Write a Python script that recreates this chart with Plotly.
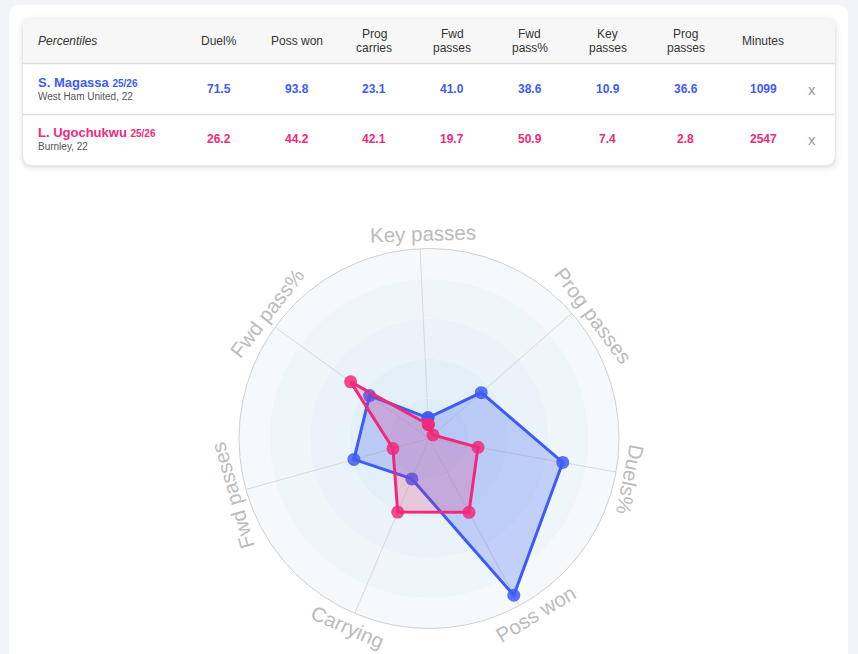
import math
import plotly.graph_objects as go

W, H = 858, 654

# ---------------- data ----------------
table_headers = ["Duel%", "Poss won", "Prog<br>carries", "Fwd<br>passes", "Fwd<br>pass%",
                 "Key<br>passes", "Prog<br>passes", "Minutes"]
player_names = ["S. Magassa", "L. Ugochukwu"]
player_seasons = ["25/26", "25/26"]
player_clubs = ["West Ham United, 22", "Burnley, 22"]
magassa_values = [71.5, 93.8, 23.1, 41.0, 38.6, 10.9, 36.6]
ugochukwu_values = [26.2, 44.2, 42.1, 19.7, 50.9, 7.4, 2.8]
player_minutes = [1099, 2547]

radar_labels = ["Key passes", "Prog passes", "Duels%", "Poss won", "Carrying", "Fwd passes", "Fwd pass%"]
# index of each radar axis in the table value lists
radar_index = [5, 6, 0, 1, 2, 3, 4]
radial_max = 100
band_edges = [0, 21, 42, 63, 84, 100]

# ---------------- styles ----------------
BLUE = "#3d5cf5"
PINK = "#f0297a"
colors = [BLUE, PINK]
fills = ["rgba(61,92,245,0.25)", "rgba(240,41,122,0.2)"]
band_colors = ["#dfedf6", "#e4f0f7", "#e9f3f9", "#eff6fa", "#f5f9fc"]
label_nudge = [1, 4.5, 1.5, -3, 0.5, -0.5, 2]  # small angular offsets of the axis titles
FONT = "Liberation Sans, Arial, sans-serif"

# polar geometry (pixels)
CX, CY, RAD = 429, 438.5, 190
ROT = 92.7
n = len(radar_labels)
angles = [i * 360 / n for i in range(n)]


def px(x):
    return x / W


def py(y):
    return 1 - y / H


def rrect(x0, y0, x1, y1, r, top_only=False):
    rb = 0 if top_only else r
    pts = [
        f"M{px(x0 + r)},{py(y0)}", f"L{px(x1 - r)},{py(y0)}",
        f"Q{px(x1)},{py(y0)} {px(x1)},{py(y0 + r)}",
        f"L{px(x1)},{py(y1 - rb)}",
        f"Q{px(x1)},{py(y1)} {px(x1 - rb)},{py(y1)}",
        f"L{px(x0 + rb)},{py(y1)}",
        f"Q{px(x0)},{py(y1)} {px(x0)},{py(y1 - rb)}",
        f"L{px(x0)},{py(y0 + r)}",
        f"Q{px(x0)},{py(y0)} {px(x0 + r)},{py(y0)}", "Z"]
    return " ".join(pts)


fig = go.Figure()

# background bands
for i in range(len(band_edges) - 1):
    fig.add_trace(go.Barpolar(
        r=[band_edges[i + 1] - band_edges[i]], base=[band_edges[i]], theta=[0], width=[360],
        marker=dict(color=band_colors[i], line=dict(width=0)), hoverinfo="skip", showlegend=False))

# spokes
spoke_r, spoke_t = [], []
for a in angles:
    spoke_r += [0, radial_max, None]
    spoke_t += [a, a, None]
fig.add_trace(go.Scatterpolar(r=spoke_r, theta=spoke_t, mode="lines",
                              line=dict(color="#d8d8d8", width=1), hoverinfo="skip",
                              showlegend=False, connectgaps=False))

# players
for vals, col, fc, name in zip([magassa_values, ugochukwu_values], colors, fills, player_names):
    rv = [vals[k] for k in radar_index]
    fig.add_trace(go.Scatterpolar(
        r=rv + [rv[0]], theta=angles + [angles[0]], mode="lines+markers", fill="toself",
        fillcolor=fc, line=dict(color=col, width=3),
        marker=dict(size=13, color=col, opacity=0.85), name=name, showlegend=False))

fig.update_layout(
    width=W, height=H, autosize=False,
    margin=dict(l=0, r=0, t=0, b=0),
    paper_bgcolor="#f3f4f8",
    showlegend=False,
    polar=dict(
        domain=dict(x=[px(CX - RAD), px(CX + RAD)], y=[py(CY + RAD), py(CY - RAD)]),
        bgcolor="rgba(0,0,0,0)",
        radialaxis=dict(range=[0, radial_max], visible=False),
        angularaxis=dict(direction="clockwise", rotation=ROT, tickvals=angles,
                         showticklabels=False, ticks="", showgrid=False,
                         showline=True, linecolor="#cfcfcf", linewidth=1),
        barmode="overlay",
    ),
)

shapes = []
# outer white card
shapes.append(dict(type="path", path=rrect(9.5, 5, 848, 720, 10), fillcolor="white",
                   line=dict(width=0), layer="below", xref="paper", yref="paper"))
# table card shadow
for grow, op in [(6, 0.012), (4, 0.018), (2, 0.025), (1, 0.035)]:
    shapes.append(dict(type="path", path=rrect(23 - grow, 19 - grow + 1.5, 835 + grow, 165 + grow + 1.5, 10 + grow),
                       fillcolor=f"rgba(0,0,0,{op})", line=dict(width=0), layer="below",
                       xref="paper", yref="paper"))
shapes.append(dict(type="path", path=rrect(23, 19, 835, 165, 10), fillcolor="white",
                   line=dict(width=0), layer="below", xref="paper", yref="paper"))
shapes.append(dict(type="path", path=rrect(23, 19, 835, 63.5, 10, top_only=True), fillcolor="#f7f7f7",
                   line=dict(width=0), layer="below", xref="paper", yref="paper"))
for yl in [63.5, 114.5]:
    shapes.append(dict(type="line", x0=px(23), x1=px(835), y0=py(yl), y1=py(yl),
                       line=dict(color="#dddddd", width=1.5), xref="paper", yref="paper", layer="below"))
fig.update_layout(shapes=shapes)

ann = []


def add_text(x, y, text, size, color, xanchor="center", angle=0):
    ann.append(dict(x=px(x), y=py(y), xref="paper", yref="paper", text=text, showarrow=False,
                    xanchor=xanchor, yanchor="middle", textangle=angle,
                    font=dict(family=FONT, size=size, color=color)))


# header
add_text(36, 40.7, "<i>Percentiles</i>", 12, "#333333", xanchor="left")
col_x = [218.7 + 77.8 * i for i in range(len(table_headers))]
for x, h in zip(col_x, table_headers):
    parts = h.split("<br>")
    if len(parts) == 1:
        add_text(x, 40.7, parts[0], 12, "#333333")
    else:
        add_text(x, 34, parts[0], 12, "#333333")
        add_text(x, 47.7, parts[1], 12, "#333333")

# rows
row_y = [89, 139]
all_vals = [magassa_values, ugochukwu_values]
for r in range(2):
    y = row_y[r]
    add_text(36, y - 6.5, f"<b>{player_names[r]}</b> <span style='font-size:10px'><b>{player_seasons[r]}</b></span>",
             13, colors[r], xanchor="left")
    add_text(36, y + 7.7, player_clubs[r], 10, "#555555", xanchor="left")
    for x, v in zip(col_x, all_vals[r]):
        add_text(x, y, f"<b>{v:.1f}</b>", 12, colors[r])
    add_text(col_x[-1], y, f"<b>{player_minutes[r]}</b>", 12, colors[r])
    add_text(812, y + 0.5, "x", 15, "#999999")

# radar labels (tangential)
LR = 205
for a, lab, nd in zip(angles, radar_labels, label_nudge):
    th = (a + (90 - ROT) + nd) % 360  # clockwise from north
    x = CX + LR * math.sin(math.radians(th))
    y = CY - LR * math.cos(math.radians(th))
    rot = th if th <= 180 else th - 360
    if 110 < th < 250:
        rot = th - 180
    add_text(x, y, lab, 20.5, "#bbbbbb", angle=rot)

fig.update_layout(annotations=ann)
fig.write_html("out.html")
